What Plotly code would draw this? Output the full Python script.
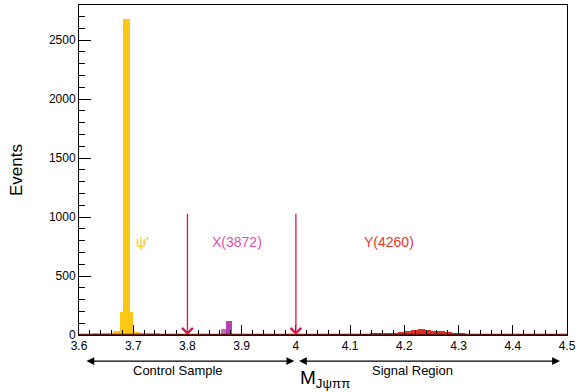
import plotly.graph_objects as go

# ---------------- data ----------------
bin_w = 0.0125
psi_x = [3.60625, 3.61875, 3.63125, 3.64375, 3.65625, 3.66875, 3.68125, 3.69375,
         3.70625, 3.71875, 3.73125, 3.74375, 3.75625]
psi_y = [5, 7, 10, 12, 16, 30, 192, 192, 25, 20, 14, 10, 5]
psi_peak_x = [3.6882]
psi_peak_y = [2680]

x3872_x = [3.8665, 3.8775, 3.8895]
x3872_y = [50, 120, 4]
x3872_w = [0.0095, 0.011, 0.011]

y4260_x = [4.10625, 4.11875, 4.13125, 4.14375, 4.15625, 4.16875, 4.18125, 4.19375,
           4.20625, 4.21875, 4.23125, 4.24375, 4.25625, 4.26875, 4.28125, 4.29375,
           4.30625, 4.31875, 4.33125, 4.34375]
y4260_y = [3, 5, 8, 10, 13, 16, 20, 26, 34, 44, 48, 45, 38, 30, 22, 15, 10, 7, 4, 2]

x_ticks = [3.6, 3.7, 3.8, 3.9, 4.0, 4.1, 4.2, 4.3, 4.4, 4.5]
x_tick_labels = ["3.6", "3.7", "3.8", "3.9", "4", "4.1", "4.2", "4.3", "4.4", "4.5"]
y_ticks = [0, 500, 1000, 1500, 2000, 2500]

cut_positions = [3.8, 4.0]
cut_top = 1040
labels = [("ψ'", 3.717, "#f7c516"), ("X(3872)", 3.892, "#dd4fae"), ("Y(4260)", 4.172, "#e8372a")]
label_y = 790

FONT = "Liberation Sans, Arial, sans-serif"

fig = go.Figure()
fig.add_bar(x=psi_x, y=psi_y, width=bin_w, marker=dict(color="#fcc814", line_width=0))
fig.add_bar(x=psi_peak_x, y=psi_peak_y, width=bin_w, marker=dict(color="#fcc814", line_width=0))
fig.add_bar(x=x3872_x, y=x3872_y, width=x3872_w,
            marker=dict(color=["#c868c0", "#b443ae", "#f0c0e0"], line_width=0))
fig.add_bar(x=y4260_x, y=y4260_y, width=bin_w, marker=dict(color="#e0301e", line_width=0))

# baseline
fig.add_shape(type="line", xref="paper", yref="y", x0=0, x1=1, y0=0, y1=0,
              line=dict(color="#6b1414", width=2.5))

ann = []
for xc in cut_positions:
    ann.append(dict(x=xc, y=0, ax=xc, ay=cut_top, xref="x", yref="y", axref="x", ayref="y",
                    text="", showarrow=True, arrowhead=4, arrowsize=1.6, arrowwidth=1.3,
                    arrowcolor="#dc1446", standoff=0))
for txt, xc, col in labels:
    ann.append(dict(x=xc, y=label_y, xref="x", yref="y", text=txt, showarrow=False,
                    font=dict(family=FONT, size=14, color=col)))

# region arrows below axis
ay_p = -0.079
for x0, x1 in [(3.611, 3.997), (4.003, 4.487)]:
    ann.append(dict(x=x1, y=ay_p, ax=x0, ay=0, xref="x", yref="paper", axref="x", ayref="pixel",
                    text="", showarrow=True, arrowhead=2, arrowside="end+start",
                    arrowsize=1.3, arrowwidth=1.2, arrowcolor="black", standoff=0, startstandoff=0))
ann.append(dict(x=3.782, y=-0.109, xref="x", yref="paper", yanchor="middle",
                text="Control Sample", showarrow=False,
                font=dict(family=FONT, size=13, color="black")))
ann.append(dict(x=4.2157, y=-0.109, xref="x", yref="paper", yanchor="middle",
                text="Signal Region", showarrow=False,
                font=dict(family=FONT, size=13, color="black")))
ann.append(dict(x=4.003, y=-0.092, xref="x", yref="paper", xanchor="left", yanchor="top",
                text="M<sub>Jψππ</sub>", showarrow=False,
                font=dict(family=FONT, size=19, color="black")))

fig.update_layout(
    width=579, height=392,
    margin=dict(l=79, r=12, t=5, b=57, autoexpand=False),
    paper_bgcolor="white", plot_bgcolor="white",
    barmode="overlay", bargap=0, showlegend=False,
    annotations=ann,
    font=dict(family=FONT, size=12, color="black"),
)
fig.update_xaxes(range=[3.6, 4.5], tickvals=x_ticks, ticktext=x_tick_labels, automargin=False,
                 ticks="inside", ticklen=10, tickwidth=1, tickcolor="black",
                 minor=dict(ticks="inside", ticklen=5, dtick=0.02, tick0=3.6, tickcolor="black"),
                 showgrid=False, zeroline=False, showline=True, linecolor="black", linewidth=1,
                 mirror=True, tickfont=dict(size=12))
fig.update_yaxes(range=[0, 2797], tickvals=y_ticks, ticks="inside", ticklen=12, tickcolor="black",
                 automargin=False,
                 minor=dict(ticks="inside", ticklen=6, dtick=100, tickcolor="black"),
                 showgrid=False, zeroline=False, showline=True, linecolor="black", linewidth=1,
                 mirror=True, tickfont=dict(size=12),
                 title=dict(text="Events", font=dict(size=17), standoff=21))

fig.write_html("out.html", config={"displayModeBar": False},
               post_script="document.body.style.margin='0px';document.body.style.overflow='hidden';")
